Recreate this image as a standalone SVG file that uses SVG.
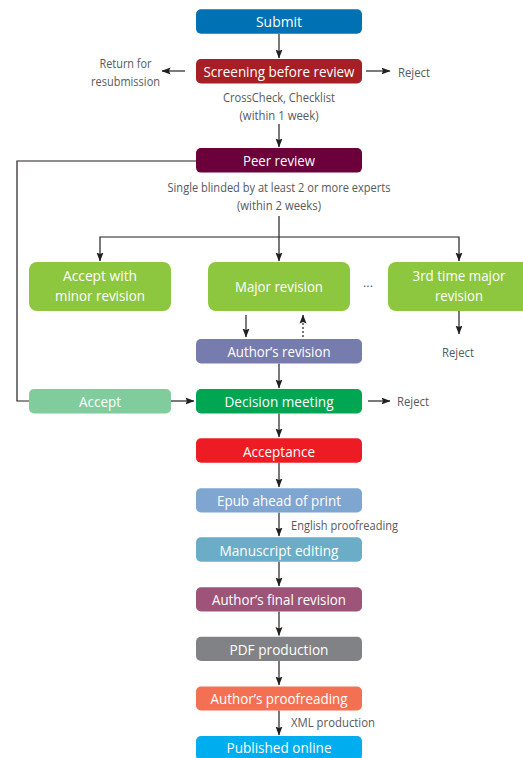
<svg xmlns="http://www.w3.org/2000/svg" width="523" height="758" viewBox="0 0 523 758">
<defs>
<marker id="ah" markerUnits="userSpaceOnUse" markerWidth="9" markerHeight="8" refX="8.5" refY="4" orient="auto">
<path d="M0,0.5 L9,4 L0,7.5 L1.5,4 z" fill="#231f20"/>
</marker>
<style>
.box{stroke:none}
.lbl{font-family:"Open Sans","Liberation Sans",sans-serif;font-size:14px;fill:#ffffff;text-anchor:middle}
.note{font-family:"Open Sans","Liberation Sans",sans-serif;font-size:12.5px;fill:#58595b}
.mid{text-anchor:middle}
.c{fill:none;stroke:#231f20;stroke-width:1.2}
.a{marker-end:url(#ah)}
.d{stroke-dasharray:2 2}
</style>
</defs>
<rect width="523" height="758" fill="#ffffff"/>

<g id="connectors">
<line class="c a" x1="279" y1="34" x2="279" y2="58"/>
<line class="c a" x1="185" y1="71" x2="162" y2="71"/>
<line class="c a" x1="366" y1="71" x2="390" y2="71"/>
<line class="c a" x1="279" y1="124" x2="279" y2="147"/>
<polyline class="c" points="196,161 17,161 17,401 29,401"/>
<line class="c a" x1="279" y1="216" x2="279" y2="261"/>
<polyline class="c a" points="279,237 100,237 100,261"/>
<polyline class="c a" points="279,237 459,237 459,261"/>
<line class="c a" x1="246" y1="315" x2="246" y2="337"/>
<line class="c a d" x1="303" y1="337" x2="303" y2="315"/>
<line class="c a" x1="459" y1="311" x2="459" y2="334"/>
<line class="c a" x1="279" y1="363.5" x2="279" y2="388"/>
<line class="c a" x1="171" y1="401" x2="194" y2="401"/>
<line class="c a" x1="368" y1="401" x2="390" y2="401"/>
<line class="c a" x1="279" y1="413.5" x2="279" y2="437"/>
<line class="c a" x1="279" y1="462.5" x2="279" y2="487"/>
<line class="c a" x1="279" y1="512.5" x2="279" y2="536"/>
<line class="c a" x1="279" y1="561.5" x2="279" y2="586"/>
<line class="c a" x1="279" y1="611.5" x2="279" y2="635.5"/>
<line class="c a" x1="279" y1="661" x2="279" y2="685"/>
<line class="c a" x1="279" y1="710.5" x2="279" y2="735"/>
</g>

<g id="submit"><rect class="box" x="196" y="9.3" width="166" height="24.4" rx="5" fill="#0071b2"/><text class="lbl" x="279" y="27.3" textLength="46" lengthAdjust="spacingAndGlyphs">Submit</text></g>

<g id="screening"><rect class="box" x="196" y="59" width="166" height="24.4" rx="5" fill="#a51f24"/><text class="lbl" x="279" y="77" textLength="151" lengthAdjust="spacingAndGlyphs">Screening before review</text></g>

<g id="return"><text class="note mid" x="125.5" y="67.5" textLength="52" lengthAdjust="spacingAndGlyphs">Return for</text><text class="note mid" x="125.5" y="85.5" textLength="69" lengthAdjust="spacingAndGlyphs">resubmission</text></g>
<g id="reject1"><text class="note" x="398" y="77.3" textLength="32" lengthAdjust="spacingAndGlyphs">Reject</text></g>
<g id="note-screening"><text class="note mid" x="279" y="101.5" textLength="112" lengthAdjust="spacingAndGlyphs">CrossCheck, Checklist</text><text class="note mid" x="279" y="120" textLength="79" lengthAdjust="spacingAndGlyphs">(within 1 week)</text></g>

<g id="peer"><rect class="box" x="196" y="148" width="166" height="24.6" rx="5" fill="#6c003a"/><text class="lbl" x="279" y="166" textLength="72" lengthAdjust="spacingAndGlyphs">Peer review</text></g>
<g id="note-peer"><text class="note mid" x="279" y="192" textLength="223" lengthAdjust="spacingAndGlyphs">Single blinded by at least 2 or more experts</text><text class="note mid" x="279" y="209.5" textLength="84" lengthAdjust="spacingAndGlyphs">(within 2 weeks)</text></g>

<g id="minor"><rect class="box" x="29" y="262" width="142" height="49" rx="8" fill="#8dc63f"/><text class="lbl" x="100" y="281" textLength="74" lengthAdjust="spacingAndGlyphs">Accept with</text><text class="lbl" x="100" y="301" textLength="90" lengthAdjust="spacingAndGlyphs">minor revision</text></g>
<g id="major"><rect class="box" x="208" y="262" width="142" height="49" rx="8" fill="#8dc63f"/><text class="lbl" x="279" y="291.5" textLength="88" lengthAdjust="spacingAndGlyphs">Major revision</text></g>
<g id="dots"><text class="note mid" x="368" y="291" font-size="12">···</text></g>
<g id="third"><rect class="box" x="388" y="262" width="142" height="49" rx="8" fill="#8dc63f"/><text class="lbl" x="459" y="281" textLength="93" lengthAdjust="spacingAndGlyphs">3rd time major</text><text class="lbl" x="459" y="301" textLength="48" lengthAdjust="spacingAndGlyphs">revision</text></g>
<g id="reject2"><text class="note mid" x="458" y="356.5" textLength="32" lengthAdjust="spacingAndGlyphs">Reject</text></g>

<g id="authors-revision"><rect class="box" x="196" y="339" width="166" height="24.4" rx="5" fill="#777cae"/><text class="lbl" x="279" y="356.7" textLength="103" lengthAdjust="spacingAndGlyphs">Author’s revision</text></g>

<g id="accept"><rect class="box" x="29" y="389" width="142" height="24.4" rx="5" fill="#81cc9c"/><text class="lbl" x="100" y="406.7" textLength="42" lengthAdjust="spacingAndGlyphs">Accept</text></g>
<g id="decision"><rect class="box" x="196" y="389" width="166" height="24.4" rx="5" fill="#00a651"/><text class="lbl" x="279" y="406.7" textLength="109" lengthAdjust="spacingAndGlyphs">Decision meeting</text></g>
<g id="reject3"><text class="note" x="397" y="406" textLength="32" lengthAdjust="spacingAndGlyphs">Reject</text></g>

<g id="acceptance"><rect class="box" x="196" y="438.3" width="166" height="24.4" rx="5" fill="#ed1c24"/><text class="lbl" x="279" y="456.5" textLength="72" lengthAdjust="spacingAndGlyphs">Acceptance</text></g>
<g id="epub"><rect class="box" x="196" y="488.3" width="166" height="24.2" rx="5" fill="#7fa6d1"/><text class="lbl" x="279" y="506.3" textLength="124" lengthAdjust="spacingAndGlyphs">Epub ahead of print</text></g>
<g id="note-english"><text class="note" x="291" y="530" textLength="107" lengthAdjust="spacingAndGlyphs">English proofreading</text></g>
<g id="manuscript"><rect class="box" x="196" y="537.3" width="166" height="24.4" rx="5" fill="#6badc6"/><text class="lbl" x="279" y="555.5" textLength="119" lengthAdjust="spacingAndGlyphs">Manuscript editing</text></g>
<g id="final"><rect class="box" x="196" y="587.3" width="166" height="24.2" rx="5" fill="#9e5479"/><text class="lbl" x="279" y="605.3" textLength="134" lengthAdjust="spacingAndGlyphs">Author’s final revision</text></g>
<g id="pdf"><rect class="box" x="196" y="636.7" width="166" height="24.2" rx="5" fill="#808285"/><text class="lbl" x="279" y="654.7" textLength="99" lengthAdjust="spacingAndGlyphs">PDF production</text></g>
<g id="proofreading"><rect class="box" x="196" y="686.5" width="166" height="24" rx="5" fill="#f37053"/><text class="lbl" x="279" y="704.3" textLength="137" lengthAdjust="spacingAndGlyphs">Author’s proofreading</text></g>
<g id="note-xml"><text class="note" x="291" y="727.3" textLength="84" lengthAdjust="spacingAndGlyphs">XML production</text></g>
<g id="published"><rect class="box" x="196" y="736" width="166" height="24.4" rx="5" fill="#00aeef"/><text class="lbl" x="279" y="753.3" textLength="105" lengthAdjust="spacingAndGlyphs">Published online</text></g>
</svg>
